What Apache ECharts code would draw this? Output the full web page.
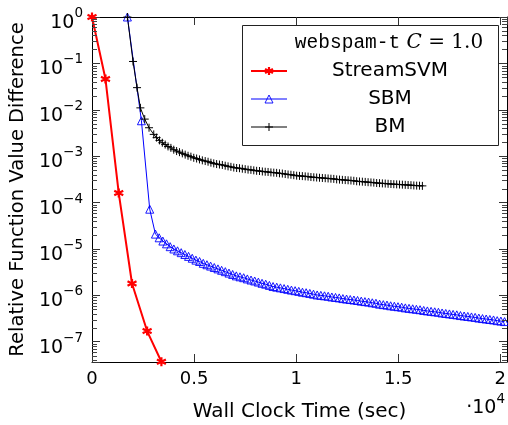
<!DOCTYPE html>
<html><head><meta charset="utf-8">
<script src="https://cdn.jsdelivr.net/npm/echarts@6/dist/echarts.min.js"></script>
<style>html,body{margin:0;padding:0;background:#fff}#c{width:508px;height:425px}</style>
</head><body><div id="c"></div>
<script>
// ---- data (time in seconds, relative function value difference) ----
const seriesNames = ['StreamSVM', 'SBM', 'BM'];
const xRange = [0, 20330];
const yRange = [3.66e-8, 1];
const xTickStep = 5000;

const streamSvm = [[0,1.0],[660,0.046],[1310,1.6e-4],[1960,1.8e-6],[2700,1.7e-7],[3400,3.7e-8]];

const sbm = [[1735,1.0],[2421,5.8e-3],[2828,7.2e-5],[3107,2.09e-5],[3290,1.74e-5],[3470,1.48e-5],[3650,1.29e-5],[3830,1.12e-5],[4010,1.00e-5],[4190,9.12e-6],[4370,8.32e-6],[4550,7.59e-6],[4730,6.92e-6],[4910,6.31e-6],[5090,5.75e-6],[5270,5.37e-6],[5450,4.90e-6],[5630,4.57e-6],[5810,4.27e-6],[5990,3.98e-6],[6170,3.72e-6],[6350,3.47e-6],[6530,3.24e-6],[6710,3.02e-6],[6890,2.82e-6],[7070,2.63e-6],[7250,2.51e-6],[7430,2.40e-6],[7610,2.26e-6],[7790,2.14e-6],[7970,2.04e-6],[8150,1.93e-6],[8330,1.82e-6],[8510,1.74e-6],[8690,1.64e-6],[8870,1.55e-6],[9050,1.50e-6],[9230,1.45e-6],[9410,1.40e-6],[9590,1.35e-6],[9770,1.30e-6],[9950,1.26e-6],[10130,1.22e-6],[10310,1.17e-6],[10490,1.14e-6],[10670,1.10e-6],[10850,1.06e-6],[11030,1.02e-6],[11210,1.00e-6],[11390,9.77e-7],[11570,9.55e-7],[11750,9.23e-7],[11930,9.02e-7],[12110,8.81e-7],[12290,8.51e-7],[12470,8.32e-7],[12650,8.13e-7],[12830,7.94e-7],[13010,7.76e-7],[13190,7.50e-7],[13370,7.33e-7],[13550,7.16e-7],[13730,6.92e-7],[13910,6.76e-7],[14090,6.46e-7],[14270,6.31e-7],[14450,6.17e-7],[14630,5.96e-7],[14810,5.82e-7],[14990,5.69e-7],[15170,5.56e-7],[15350,5.37e-7],[15530,5.25e-7],[15710,5.13e-7],[15890,5.01e-7],[16070,4.90e-7],[16250,4.73e-7],[16430,4.62e-7],[16610,4.52e-7],[16790,4.42e-7],[16970,4.32e-7],[17150,4.17e-7],[17330,4.07e-7],[17510,3.98e-7],[17690,3.89e-7],[17870,3.80e-7],[18050,3.67e-7],[18230,3.59e-7],[18410,3.51e-7],[18590,3.43e-7],[18770,3.35e-7],[18950,3.24e-7],[19130,3.16e-7],[19310,3.09e-7],[19490,3.02e-7],[19670,2.95e-7],[19850,2.85e-7],[20030,2.79e-7],[20210,2.72e-7]];

const bm = [[1735,1.0],[2010,0.11],[2206,0.03],[2370,0.011],[2583,6.3e-3],[2794,4.1e-3],[3025,2.95e-3],[3165,2.51e-3],[3305,2.19e-3],[3445,1.95e-3],[3585,1.78e-3],[3725,1.62e-3],[3865,1.51e-3],[4005,1.38e-3],[4145,1.29e-3],[4285,1.22e-3],[4425,1.15e-3],[4565,1.08e-3],[4705,1.02e-3],[4845,9.77e-4],[4985,9.23e-4],[5125,8.91e-4],[5265,8.51e-4],[5405,8.13e-4],[5545,7.85e-4],[5685,7.59e-4],[5825,7.24e-4],[5965,7.00e-4],[6105,6.76e-4],[6245,6.61e-4],[6385,6.46e-4],[6525,6.24e-4],[6665,6.03e-4],[6805,5.89e-4],[6945,5.69e-4],[7085,5.56e-4],[7225,5.50e-4],[7365,5.37e-4],[7505,5.25e-4],[7645,5.13e-4],[7785,5.07e-4],[7925,4.95e-4],[8065,4.84e-4],[8205,4.79e-4],[8345,4.68e-4],[8485,4.62e-4],[8625,4.57e-4],[8765,4.47e-4],[8905,4.42e-4],[9045,4.37e-4],[9185,4.27e-4],[9325,4.22e-4],[9465,4.12e-4],[9605,4.03e-4],[9745,3.98e-4],[9885,3.89e-4],[10025,3.80e-4],[10165,3.76e-4],[10305,3.72e-4],[10445,3.67e-4],[10585,3.63e-4],[10725,3.55e-4],[10865,3.51e-4],[11005,3.47e-4],[11145,3.43e-4],[11285,3.39e-4],[11425,3.35e-4],[11565,3.31e-4],[11705,3.27e-4],[11845,3.24e-4],[11985,3.16e-4],[12125,3.13e-4],[12265,3.09e-4],[12405,3.05e-4],[12545,3.02e-4],[12685,2.99e-4],[12825,2.95e-4],[12965,2.88e-4],[13105,2.85e-4],[13245,2.82e-4],[13385,2.79e-4],[13525,2.75e-4],[13665,2.72e-4],[13805,2.69e-4],[13945,2.64e-4],[14085,2.62e-4],[14225,2.59e-4],[14365,2.57e-4],[14505,2.54e-4],[14645,2.51e-4],[14785,2.49e-4],[14925,2.47e-4],[15065,2.45e-4],[15205,2.43e-4],[15345,2.41e-4],[15485,2.39e-4],[15625,2.37e-4],[15765,2.34e-4],[15905,2.32e-4],[16045,2.31e-4],[16185,2.29e-4]];

// minor tick positions of the log axis (2..9 x 10^n)
const minorTickValues = [];
for (let e = -8; e < 0; e++) {
  for (let k = 2; k <= 9; k++) {
    const v = k * Math.pow(10, e);
    if (v > yRange[0] && v < yRange[1]) minorTickValues.push([xRange[0], v]);
  }
}

const F = "'DejaVu Sans', sans-serif";
const chart = echarts.init(document.getElementById('c'), null, {renderer: 'canvas'});

const starPath = 'path://M5,0 L5,10 M0.67,2.5 L9.33,7.5 M0.67,7.5 L9.33,2.5';
const plusPath = 'path://M0,5 L10,5 M5,0 L5,10';

function yLabel(v) {
  const l = Math.log10(v);
  const e = Math.round(l);
  if (Math.abs(l - e) > 1e-6) return '';
  return '{b|10}{s|' + (e === 0 ? '0' : '\u2212' + (-e)) + '}';
}
function xLabel(v) {
  if (Math.abs(v % xTickStep) > 1e-6) return '';
  return String(v / 1e4);
}

const axisLineStyle = {color: '#000', width: 1};
const tickStyle = {color: '#333', width: 1};
const colors = {StreamSVM: '#ff0000', SBM: '#0000ff', BM: '#000000'};
const lineWidths = {StreamSVM: 2, SBM: 1, BM: 1};
const markWidths = {StreamSVM: 2.2, SBM: 0.9, BM: 1};
const markFills = {StreamSVM: '#ff0000', SBM: 'rgba(0,0,255,0)', BM: '#000000'};

const option = {
  animation: false,
  backgroundColor: '#fff',
  grid: {left: 92, right: 1, top: 17, bottom: 63, containLabel: false, outerBoundsMode: 'none'},
  xAxis: [{
    type: 'value', position: 'bottom', min: xRange[0], max: xRange[1], interval: xTickStep,
    axisLine: {show: true, onZero: false, lineStyle: axisLineStyle},
    axisTick: {show: true, inside: true, length: 8, lineStyle: tickStyle},
    axisLabel: {show: true, margin: 8, fontFamily: F, fontSize: 18, color: '#000', formatter: xLabel, showMaxLabel: false},
    splitLine: {show: false},
    name: 'Wall Clock Time (sec)', nameLocation: 'middle', nameGap: 40,
    nameTextStyle: {fontFamily: F, fontSize: 20, color: '#000'}
  }, {
    type: 'value', position: 'top', min: xRange[0], max: xRange[1], interval: xTickStep,
    axisLine: {show: true, onZero: false, lineStyle: axisLineStyle},
    axisTick: {show: true, inside: true, length: 8, lineStyle: tickStyle},
    axisLabel: {show: false}, splitLine: {show: false}
  }],
  yAxis: [{
    type: 'log', logBase: 10, position: 'left', min: yRange[0], max: yRange[1], splitNumber: 8,
    axisLine: {show: true, onZero: false, lineStyle: axisLineStyle},
    axisTick: {show: true, inside: true, length: 8, lineStyle: tickStyle},
    axisLabel: {show: true, margin: 9, formatter: yLabel, padding: [5, 0, 0, 0],
      rich: {
        b: {fontFamily: F, fontSize: 19, color: '#000', lineHeight: 26, verticalAlign: 'bottom'},
        s: {fontFamily: F, fontSize: 13.5, color: '#000', lineHeight: 14, verticalAlign: 'top'}
      }},
    splitLine: {show: false},
    name: 'Relative Function Value Difference', nameLocation: 'middle', nameGap: 64,
    nameTextStyle: {fontFamily: F, fontSize: 19.5, color: '#000'}
  }, {
    type: 'log', logBase: 10, position: 'right', min: yRange[0], max: yRange[1], splitNumber: 8,
    axisLine: {show: true, onZero: false, lineStyle: axisLineStyle},
    axisTick: {show: true, inside: true, length: 8, lineStyle: tickStyle},
    axisLabel: {show: false}, splitLine: {show: false}
  }],
  legend: {
    orient: 'vertical', left: 250, top: 61, padding: 0, itemGap: 8, itemWidth: 36, itemHeight: 10,
    selectedMode: false, z: 10,
    data: seriesNames.map(n => ({
      name: n,
      lineStyle: {color: colors[n], width: lineWidths[n]},
      itemStyle: {color: markFills[n], borderColor: colors[n], borderWidth: markWidths[n]}
    })),
    formatter: n => '{n|' + n + '}',
    textStyle: {color: '#000', fontFamily: F, fontSize: 20,
      rich: {n: {width: 196, align: 'center', fontSize: 20, fontFamily: F, color: '#000'}}}
  },
  graphic: [{
    type: 'rect', z: 3, shape: {x: 242.5, y: 25.5, width: 256, height: 120},
    style: {fill: '#fff', stroke: '#222', lineWidth: 1}
  }, {
    type: 'text', z: 11, x: 389, y: 43,
    style: {
      text: '{tt|webspam-t} {it|C} {rm|= 1.0}', align: 'center', verticalAlign: 'middle',
      fontFamily: "'DejaVu Serif', serif", fontSize: 20, fill: '#000',
      rich: {
        tt: {fontFamily: "'Liberation Mono', monospace", fontSize: 19.5, fill: '#000'},
        it: {fontFamily: "'DejaVu Serif', serif", fontStyle: 'italic', fontSize: 20, fill: '#000'},
        rm: {fontFamily: "'DejaVu Serif', serif", fontSize: 20, fill: '#000'}
      }
    }
  }, {
    type: 'text', z: 11, x: 505, y: 405,
    style: {
      text: '{b|\u00b710}{s|4}', align: 'right', verticalAlign: 'middle', fill: '#000',
      rich: {
        b: {fontFamily: F, fontSize: 19, fill: '#000', lineHeight: 26, verticalAlign: 'bottom'},
        s: {fontFamily: F, fontSize: 13.5, fill: '#000', lineHeight: 14, verticalAlign: 'top'}
      }
    }
  }],
  series: [{
    name: 'StreamSVM', type: 'line', data: streamSvm, clip: false, showAllSymbol: true,
    symbol: starPath, symbolSize: 9,
    lineStyle: {color: colors.StreamSVM, width: lineWidths.StreamSVM},
    itemStyle: {color: markFills.StreamSVM, borderColor: colors.StreamSVM, borderWidth: markWidths.StreamSVM},
    emphasis: {disabled: true}, z: 3
  }, {
    name: 'SBM', type: 'line', data: sbm, clip: false, showAllSymbol: true,
    symbol: 'triangle', symbolSize: 8,
    lineStyle: {color: colors.SBM, width: lineWidths.SBM},
    itemStyle: {color: markFills.SBM, borderColor: colors.SBM, borderWidth: markWidths.SBM},
    emphasis: {disabled: true}, z: 3
  }, {
    name: 'BM', type: 'line', data: bm, clip: false, showAllSymbol: true,
    symbol: plusPath, symbolSize: 8,
    lineStyle: {color: colors.BM, width: lineWidths.BM},
    itemStyle: {color: markFills.BM, borderColor: colors.BM, borderWidth: markWidths.BM},
    emphasis: {disabled: true}, z: 3
  }, {
    name: 'minorTicks', type: 'custom', data: minorTickValues, clip: false, silent: true, z: 4,
    renderItem: function (params, api) {
      const v = api.value(1);
      const pl = api.coord([xRange[0], v]);
      const pr = api.coord([xRange[1], v]);
      const y = Math.round(pl[1]) + 0.5;
      return {type: 'group', children: [
        {type: 'line', shape: {x1: pl[0], y1: y, x2: pl[0] + 5, y2: y}, style: {stroke: '#444', lineWidth: 1}},
        {type: 'line', shape: {x1: pr[0] - 5, y1: y, x2: pr[0], y2: y}, style: {stroke: '#444', lineWidth: 1}}
      ]};
    }
  }]
};
chart.setOption(option);
</script>
</body></html>
